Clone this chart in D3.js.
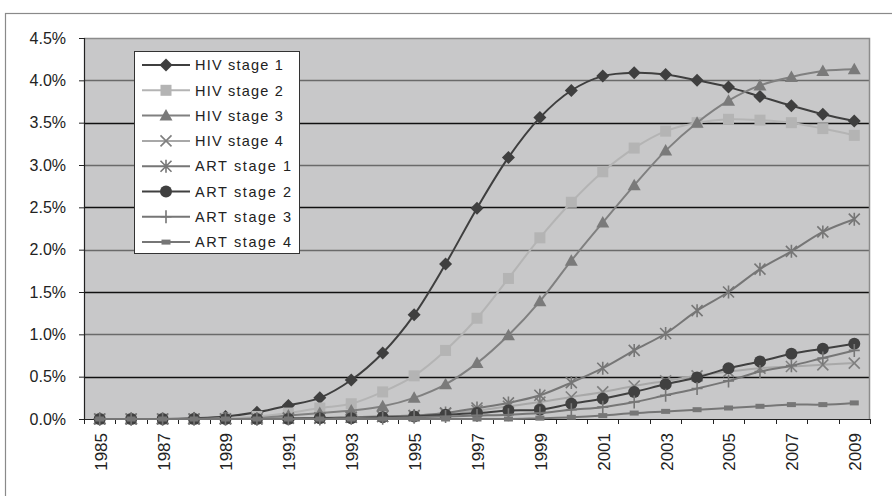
<!DOCTYPE html>
<html>
<head>
<meta charset="utf-8">
<script src="https://cdn.jsdelivr.net/npm/d3@7"></script>
<style>
  html, body { margin: 0; padding: 0; background: #fff; }
  svg { display: block; font-family: 'Liberation Sans', Arial, sans-serif; }
</style>
</head>
<body>
<div id="chart"></div>
<script>
// ---------------- data ----------------
const years = d3.range(1985, 2010);
const yTicks = [0, 0.005, 0.01, 0.015, 0.02, 0.025, 0.03, 0.035, 0.04, 0.045];
const seriesNames = ['HIV stage 1', 'HIV stage 2', 'HIV stage 3', 'HIV stage 4',
  'ART stage 1', 'ART stage 2', 'ART stage 3', 'ART stage 4'];

// values in percent
const hiv1 = [0, 0, 0, 0.01, 0.03, 0.08, 0.16, 0.25, 0.46, 0.78, 1.23, 1.83, 2.49, 3.09, 3.56, 3.88, 4.05, 4.09, 4.07, 4.00, 3.92, 3.81, 3.70, 3.60, 3.52];
const hiv2 = [0, 0, 0, 0, 0.01, 0.03, 0.07, 0.13, 0.18, 0.32, 0.51, 0.81, 1.19, 1.66, 2.14, 2.56, 2.92, 3.20, 3.40, 3.50, 3.54, 3.53, 3.50, 3.43, 3.35];
const hiv3 = [0, 0, 0, 0, 0, 0.01, 0.04, 0.07, 0.10, 0.15, 0.25, 0.41, 0.66, 0.99, 1.39, 1.87, 2.32, 2.76, 3.17, 3.50, 3.76, 3.94, 4.04, 4.11, 4.13];
const hiv4 = [0, 0, 0, 0, 0, 0, 0.01, 0.01, 0.02, 0.03, 0.04, 0.07, 0.10, 0.15, 0.20, 0.26, 0.32, 0.39, 0.45, 0.51, 0.56, 0.60, 0.62, 0.64, 0.66];
const art1 = [0, 0, 0, 0, 0, 0, 0.01, 0.01, 0.02, 0.03, 0.04, 0.07, 0.13, 0.19, 0.28, 0.43, 0.60, 0.81, 1.01, 1.28, 1.50, 1.77, 1.98, 2.21, 2.36];
const art2 = [0, 0, 0, 0, 0, 0, 0, 0.01, 0.01, 0.02, 0.03, 0.05, 0.07, 0.10, 0.11, 0.18, 0.24, 0.32, 0.41, 0.49, 0.60, 0.68, 0.77, 0.83, 0.89];
const art3 = [0, 0, 0, 0, 0, 0, 0, 0, 0.01, 0.01, 0.02, 0.03, 0.04, 0.05, 0.07, 0.11, 0.14, 0.20, 0.28, 0.36, 0.45, 0.56, 0.63, 0.72, 0.81];
const art4 = [0, 0, 0, 0, 0, 0, 0, 0, 0, 0, 0, 0, 0, 0, 0.01, 0.02, 0.04, 0.07, 0.09, 0.11, 0.13, 0.15, 0.17, 0.17, 0.19];

const seriesValues = [hiv1, hiv2, hiv3, hiv4, art1, art2, art3, art4];

// ---------------- styles ----------------
const styles = [
  { line: '#3f3f3f', mark: 'diamond', color: '#3f3f3f' },
  { line: '#b4b4b4', mark: 'square', color: '#b4b4b4' },
  { line: '#808080', mark: 'triangle', color: '#7a7a7a' },
  { line: '#a8a8a8', mark: 'cross', color: '#7f7f7f' },
  { line: '#767676', mark: 'star', color: '#767676' },
  { line: '#404040', mark: 'circle', color: '#404040' },
  { line: '#767676', mark: 'plus', color: '#767676' },
  { line: '#767676', mark: 'dash', color: '#767676' }
];

const width = 892;
const height = 496;
const plot = { left: 84, right: 870, top: 38, bottom: 419 };

const svg = d3.select('#chart').append('svg')
  .attr('width', width)
  .attr('height', height);

// outer frame (runs off the page on the right and bottom)
svg.append('rect')
  .attr('x', 5.5).attr('y', 13.5)
  .attr('width', 900).attr('height', 500)
  .attr('fill', '#fff')
  .attr('stroke', '#8a8a8a')
  .attr('stroke-width', 1.2);

const x = d3.scaleBand().domain(years).range([plot.left, plot.right]).padding(0);
const y = d3.scaleLinear().domain([0, 0.045]).range([plot.bottom, plot.top]);

// plot area
svg.append('rect')
  .attr('x', plot.left).attr('y', plot.top)
  .attr('width', plot.right - plot.left)
  .attr('height', plot.bottom - plot.top)
  .attr('fill', '#c8c8c9');

// gridlines (alternating tones as in the scan)
svg.append('g').selectAll('line')
  .data(yTicks.slice(1, -1))
  .join('line')
  .attr('x1', plot.left).attr('x2', plot.right)
  .attr('y1', d => Math.round(y(d)) + 0.5)
  .attr('y2', d => Math.round(y(d)) + 0.5)
  .attr('stroke', (d, i) => i % 2 === 0 ? '#111' : '#6a6a6a')
  .attr('stroke-width', 1.3);

// top / right border of plot area
svg.append('path')
  .attr('d', `M${plot.left},${plot.top + 0.5} H${plot.right - 0.5} V${plot.bottom}`)
  .attr('fill', 'none')
  .attr('stroke', '#8c8c8c')
  .attr('stroke-width', 1.5);

// y axis
const yAxis = svg.append('g')
  .attr('transform', `translate(${plot.left},0)`)
  .call(d3.axisLeft(y).tickValues(yTicks).tickFormat(d3.format('.1%')).tickSize(5).tickPadding(13));
yAxis.select('.domain').attr('stroke', '#222').attr('stroke-width', 1.2);
yAxis.selectAll('.tick line').attr('stroke', '#222');
yAxis.selectAll('.tick text')
  .attr('font-size', '16px')
  .attr('font-family', 'Liberation Sans, Arial, sans-serif')
  .attr('fill', '#222');

// x axis: ticks at band boundaries
const xAxis = svg.append('g').attr('class', 'xaxis');
xAxis.append('line')
  .attr('x1', plot.left).attr('x2', plot.right)
  .attr('y1', plot.bottom + 0.5).attr('y2', plot.bottom + 0.5)
  .attr('stroke', '#222').attr('stroke-width', 1.2);
xAxis.selectAll('.tk')
  .data(years.concat([2010]))
  .join('line')
  .attr('class', 'tk')
  .attr('x1', d => Math.round(d === 2010 ? plot.right : x(d)) + 0.5)
  .attr('x2', d => Math.round(d === 2010 ? plot.right : x(d)) + 0.5)
  .attr('y1', plot.bottom).attr('y2', plot.bottom + 5)
  .attr('stroke', '#222');
xAxis.selectAll('.lbl')
  .data(years.filter((d, i) => i % 2 === 0))
  .join('text')
  .attr('class', 'lbl')
  .attr('transform', d => `translate(${x(d) + x.bandwidth() / 2 + 1},${plot.bottom + 14}) rotate(-90)`)
  .attr('text-anchor', 'end')
  .attr('dy', '0.35em')
  .attr('font-size', '17px')
  .attr('fill', '#222')
  .text(d => d);

// markers
function drawMarker(g, type, color) {
  if (type === 'diamond') {
    g.append('path').attr('d', 'M0,-6.5L6.5,0L0,6.5L-6.5,0Z').attr('fill', color);
  } else if (type === 'square') {
    g.append('rect').attr('x', -5.5).attr('y', -5.5).attr('width', 11).attr('height', 11).attr('fill', color);
  } else if (type === 'triangle') {
    g.append('path').attr('d', 'M0,-6.5L6.5,5L-6.5,5Z').attr('fill', color);
  } else if (type === 'cross') {
    g.append('path').attr('d', 'M-5.5,-5.5L5.5,5.5M-5.5,5.5L5.5,-5.5')
      .attr('stroke', color).attr('stroke-width', 1.6).attr('fill', 'none');
  } else if (type === 'star') {
    g.append('path').attr('d', 'M-5.5,-5.5L5.5,5.5M-5.5,5.5L5.5,-5.5M0,-6.5L0,6.5')
      .attr('stroke', color).attr('stroke-width', 1.6).attr('fill', 'none');
  } else if (type === 'circle') {
    g.append('circle').attr('r', 6).attr('fill', color);
  } else if (type === 'plus') {
    g.append('path').attr('d', 'M0,-6.5L0,6.5M-5.5,0L5.5,0')
      .attr('stroke', color).attr('stroke-width', 1.6).attr('fill', 'none');
  } else if (type === 'dash') {
    g.append('rect').attr('x', -4.5).attr('y', -2.5).attr('width', 9).attr('height', 5).attr('fill', color);
  }
}

const line = d3.line()
  .x((d, i) => x(years[i]) + x.bandwidth() / 2)
  .y(d => y(d / 100))
  .curve(d3.curveCatmullRom.alpha(0.5));

const seriesG = svg.append('g').attr('class', 'series');
seriesValues.forEach((vals, si) => {
  const st = styles[si];
  const g = seriesG.append('g');
  g.append('path')
    .attr('d', line(vals))
    .attr('fill', 'none')
    .attr('stroke', st.line)
    .attr('stroke-width', 2);
  vals.forEach((v, i) => {
    const m = g.append('g')
      .attr('transform', `translate(${x(years[i]) + x.bandwidth() / 2},${y(v / 100)})`);
    drawMarker(m, st.mark, st.color);
  });
});

// legend
const legend = svg.append('g').attr('class', 'legend');
legend.append('rect')
  .attr('x', 134.5).attr('y', 51.5)
  .attr('width', 165).attr('height', 202)
  .attr('fill', '#fff')
  .attr('stroke', '#333')
  .attr('stroke-width', 1);

seriesNames.forEach((name, i) => {
  const st = styles[i];
  const ly = 65 + i * 25.3;
  const row = legend.append('g').attr('transform', `translate(0,${ly})`);
  row.append('line')
    .attr('x1', 142).attr('x2', 190)
    .attr('y1', 0).attr('y2', 0)
    .attr('stroke', st.line).attr('stroke-width', 2);
  const m = row.append('g').attr('transform', 'translate(166,0)');
  drawMarker(m, st.mark, st.color);
  row.append('text')
    .attr('x', 195).attr('y', 0)
    .attr('dy', '0.36em')
    .attr('font-size', '14.5px')
    .attr('letter-spacing', name.startsWith('ART') ? '1.6px' : '1.2px')
    .attr('fill', '#222')
    .text(name);
});
</script>
</body>
</html>
